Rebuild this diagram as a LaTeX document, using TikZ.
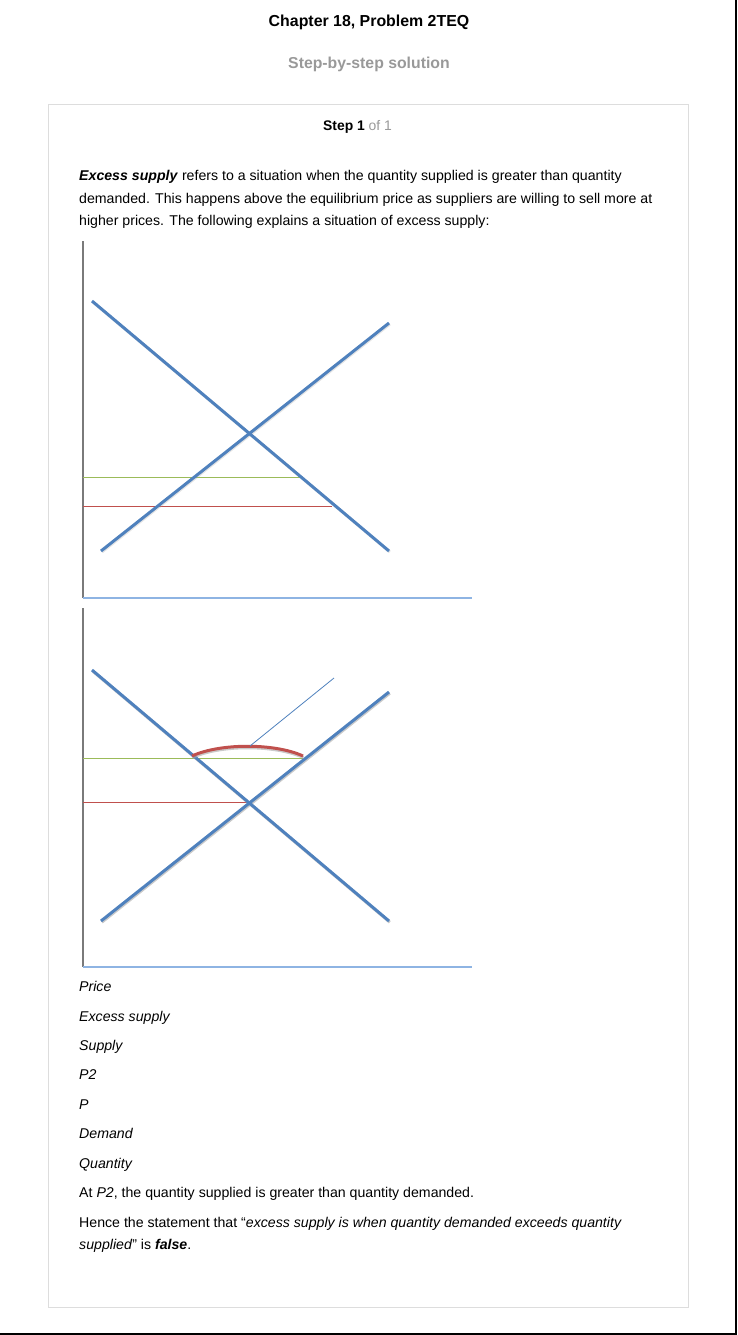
\documentclass[tikz,border=0pt]{standalone}
\usepackage{fontspec}
\setmainfont{Liberation Sans}
\definecolor{cblue}{HTML}{4F81BD}
\definecolor{axblue}{HTML}{8EB4E3}
\definecolor{cgreen}{HTML}{9BBB59}
\definecolor{cred}{HTML}{C0504D}
\definecolor{axgray}{HTML}{7A7A7A}
\definecolor{cardgray}{HTML}{DDDDDD}
\definecolor{subgray}{HTML}{999999}
\tikzset{
  curve/.style={draw=cblue, line width=3pt},
  curveshadow/.style={draw=gray!70, line width=3pt, opacity=0.6},
  yaxis/.style={draw=axgray, line width=2pt},
  xaxis/.style={draw=axblue, line width=1.4pt},
  pline/.style={line width=1.1pt},
  body/.style={anchor=base west, inner sep=0pt, font=\fontsize{14.15}{22}\selectfont},
  lbl/.style={anchor=base west, inner sep=0pt, font=\fontsize{14.15}{22}\selectfont\itshape},
}
\begin{document}
\begin{tikzpicture}[x=1pt, y={(0,-1pt)}]
\useasboundingbox (0,0) rectangle (738,1335);
% page frame
\draw[black, line width=2pt] (735.5,0) -- (735.5,1334) -- (0,1334);
% card
\draw[cardgray, line width=1pt] (48.5,104.5) rectangle (688.5,1307.5);
% headings
\node (title) [anchor=base, inner sep=0pt, font=\fontsize{15.9}{18}\selectfont\bfseries] at (369,27) {Chapter 18, Problem 2TEQ};
\node (sub) [anchor=base, inner sep=0pt, text=subgray, font=\fontsize{15.8}{18}\selectfont\bfseries] at (369,69) {Step-by-step solution};
\node (step) [anchor=base, inner sep=0pt, font=\fontsize{13.9}{16}\selectfont] at (357.5,131) {\textbf{Step 1} \textcolor{subgray}{of 1}};
% intro paragraph
\node (intro1) [body] at (79,180) {\textbf{\textit{Excess supply}} refers to a situation when the quantity supplied is greater than quantity};
\node (intro2) [body] at (79,203) {demanded. This happens above the equilibrium price as suppliers are willing to sell more at};
\node (intro3) [body] at (79,225) {higher prices. The following explains a situation of excess supply:};
% ---- graph 1
\coordinate (o1) at (83,598);
\coordinate (t1) at (83,241);
\coordinate (e1) at (472,598);
\coordinate (d1a) at (92,301);
\coordinate (d1b) at (389,551);
\coordinate (s1a) at (101,551);
\coordinate (s1b) at (389,323);
\coordinate (g1a) at (83,477.5);
\coordinate (g1b) at (303,477.5);
\coordinate (r1a) at (83,506.5);
\coordinate (r1b) at (332,506.5);
\draw[yaxis] (t1) -- (o1);
\draw[xaxis] (o1) -- (e1);
\draw[pline, draw=cgreen] (g1a) -- (g1b);
\draw[pline, draw=cred] (r1a) -- (r1b);
\draw[curveshadow, opacity=0.3] ([shift={(0.8,1)}]d1a) -- ([shift={(0.8,1)}]d1b);
\draw[curveshadow, opacity=0.3] ([shift={(0.8,1)}]s1a) -- ([shift={(0.8,1)}]s1b);
\draw[curve] (d1a) -- (d1b);
\draw[curve] (s1a) -- (s1b);
% ---- graph 2
\coordinate (o2) at (83,967);
\coordinate (t2) at (83,608);
\coordinate (e2) at (472,967);
\coordinate (d2a) at (92,670);
\coordinate (d2b) at (389,921);
\coordinate (s2a) at (101,921);
\coordinate (s2b) at (389,692);
\coordinate (g2a) at (83,758.5);
\coordinate (g2b) at (303,758.5);
\coordinate (r2a) at (83,802.5);
\coordinate (r2b) at (250,802.5);
\coordinate (arcL) at (192,756);
\coordinate (arcR) at (303,756);
\coordinate (arcTop) at (250,746);
\coordinate (ptr) at (334,678);
\draw[yaxis] (t2) -- (o2);
\draw[xaxis] (o2) -- (e2);
\draw[pline, draw=cgreen] (g2a) -- (g2b);
\draw[pline, draw=cred] (r2a) -- (r2b);
\draw[curveshadow] ([shift={(0.8,1.2)}]d2a) -- ([shift={(0.8,1.2)}]d2b);
\draw[curveshadow] ([shift={(0.8,1.2)}]s2a) -- ([shift={(0.8,1.2)}]s2b);
\draw[curve] (d2a) -- (d2b);
\draw[curve] (s2a) -- (s2b);
\draw[curveshadow] ([shift={(0.5,1.5)}]arcL) .. controls (220,744.5) and (275,744.5) .. ([shift={(0.5,1.5)}]arcR);
\draw[draw=cred, line width=3pt] (arcL) .. controls (220,743) and (275,743) .. (arcR);
\draw[draw=cblue, line width=0.8pt] (arcTop) -- (ptr);
% labels
\node (lprice) [lbl] at (79,991) {Price};
\node (lexcess) [lbl] at (79,1021) {Excess supply};
\node (lsupply) [lbl] at (79,1050) {Supply};
\node (lp2) [lbl] at (79,1079) {P2};
\node (lp) [lbl] at (79,1109) {P};
\node (ldemand) [lbl] at (79,1138) {Demand};
\node (lqty) [lbl] at (79,1168) {Quantity};
\node (at) [body] at (79,1197) {At \textit{P2}, the quantity supplied is greater than quantity demanded.};
\node (hence1) [body] at (79,1227) {Hence the statement that \textquotedblleft\textit{excess supply is when quantity demanded exceeds quantity}};
\node (hence2) [body] at (79,1249) {\textit{supplied}\textquotedblright{} is \textbf{\textit{false}}.};
\end{tikzpicture}
\end{document}
